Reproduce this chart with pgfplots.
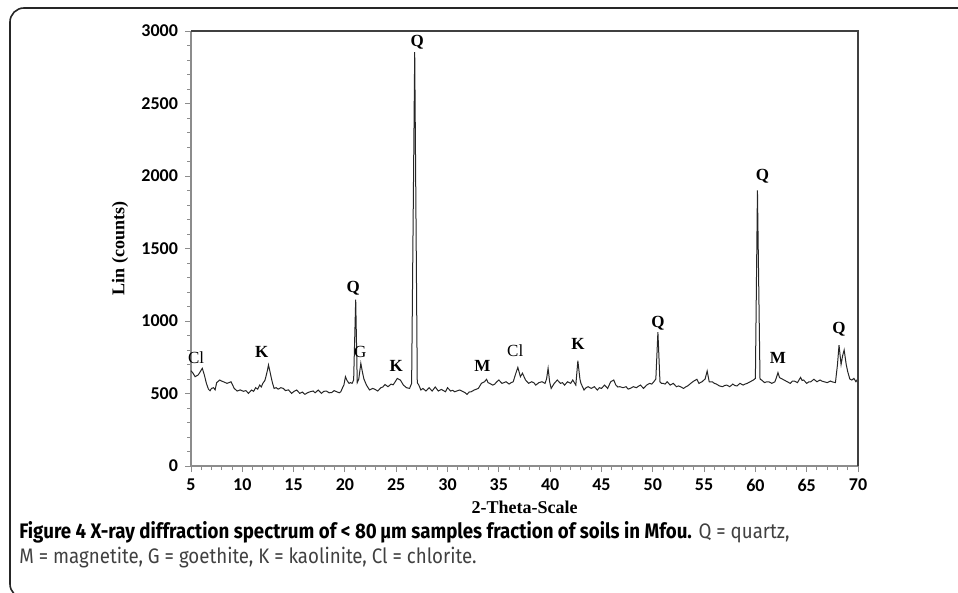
\documentclass[border=0pt]{standalone}
\usepackage{fontspec}
\setmainfont{Liberation Serif}
\newfontfamily\tickfont{Carlito}
\newfontfamily\capfont[FakeStretch=0.89]{Fira Sans}
\usepackage{pgfplots}
\pgfplotsset{compat=1.18}

% spectrum (2theta, counts)
\pgfplotstableread{
x y
5.0 657
5.2 640
5.4 616
5.7 628
5.9 650
6.1 674
6.3 628
6.5 570
6.7 530
6.85 519
7.0 535
7.2 540
7.35 525
7.5 575
7.8 593
8.0 585
8.2 580
8.5 570
8.7 575
8.9 581
9.05 560
9.2 536
9.5 517
9.8 525
10.1 515
10.35 520
10.6 501
10.9 524
11.1 515
11.3 540
11.5 530
11.7 558
11.85 545
12.0 570
12.2 590
12.3 616
12.45 660
12.55 697
12.7 650
12.8 616
12.95 570
13.1 535
13.3 540
13.5 530
13.75 540
14.0 535
14.2 520
14.5 525
14.8 501
15.05 515
15.3 524
15.6 501
15.85 510
16.1 494
16.35 505
16.6 512
16.9 517
17.1 505
17.4 524
17.7 501
17.95 515
18.2 517
18.45 505
18.7 506
18.95 520
19.2 512
19.45 505
19.6 512
19.8 545
19.9 558
20.05 616
20.2 590
20.4 570
20.55 575
20.7 570
20.85 593
21.05 1148
21.2 575
21.35 600
21.55 708
21.7 650
21.85 600
22.1 558
22.4 524
22.7 535
22.9 530
23.2 517
23.5 540
23.7 545
23.9 562
24.2 547
24.5 565
24.7 560
24.9 581
25.1 604
25.4 593
25.7 558
26.0 540
26.3 535
26.5 570
26.8 2855
27.05 575
27.2 558
27.4 524
27.6 535
27.9 517
28.2 540
28.5 517
28.8 545
29.1 517
29.4 528
29.8 512
30.0 540
30.3 517
30.5 522
30.7 512
31.0 520
31.2 524
31.45 515
31.7 506
31.9 494
32.1 510
32.3 512
32.6 524
33.0 535
33.3 570
33.6 581
33.8 598
33.95 575
34.1 570
34.4 558
34.6 565
34.8 581
35.0 593
35.3 570
35.5 575
35.7 581
36.0 565
36.2 575
36.4 581
36.6 627
36.85 680
37.1 616
37.3 640
37.6 593
37.9 570
38.2 581
38.4 575
38.6 558
38.9 575
39.2 581
39.5 570
39.65 600
39.8 674
39.95 580
40.1 535
40.4 570
40.7 593
41.0 570
41.2 575
41.4 558
41.7 581
42.0 570
42.2 593
42.5 558
42.7 726
42.9 600
43.0 570
43.3 524
43.5 540
43.7 547
44.0 535
44.3 547
44.6 524
44.8 540
45.0 535
45.3 558
45.6 535
45.9 581
46.2 593
46.4 558
46.6 545
46.8 547
47.1 540
47.4 547
47.6 530
47.8 535
48.1 547
48.4 540
48.6 550
48.8 558
49.1 535
49.4 558
49.7 570
49.9 565
50.1 581
50.3 600
50.5 924
50.7 581
50.85 570
51.0 570
51.2 565
51.4 581
51.7 558
52.0 570
52.3 547
52.5 552
52.7 547
53.0 535
53.2 545
53.4 552
53.7 570
54.0 586
54.3 598
54.5 570
54.8 581
55.1 600
55.3 655
55.5 581
55.8 581
56.0 570
56.2 565
56.5 552
56.8 547
57.0 555
57.2 558
57.5 547
57.8 565
58.0 555
58.2 552
58.5 570
58.8 558
59.0 565
59.2 570
59.5 581
59.8 593
60.0 604
60.2 1900
60.45 600
60.6 593
60.9 575
61.1 581
61.3 581
61.6 570
61.9 581
62.05 610
62.2 644
62.35 610
62.5 604
62.8 593
63.1 581
63.4 570
63.6 585
63.8 586
64.1 575
64.4 611
64.55 590
64.7 593
65.0 570
65.2 580
65.4 581
65.7 598
66.0 581
66.3 593
66.5 585
66.7 581
67.0 575
67.3 586
67.5 580
67.8 575
68.0 700
68.15 834
68.35 700
68.5 760
68.65 800
68.85 700
69.0 650
69.2 600
69.4 593
69.6 604
69.8 581
70.0 604
}\spectrum

\begin{document}
\begin{tikzpicture}
% page in reference pixels: 1px = 0.5pt, y downwards
\begin{scope}[x=0.5pt,y=-0.5pt]
\path[use as bounding box] (0,0) rectangle (958,593);
\draw[black!85, line width=0.8pt, rounded corners=7pt] (1000,8) -- (10,8) -- (10,598) -- (60,598);
\node[anchor=base west, inner sep=0pt, font=\capfont\fontsize{10.5}{12}\selectfont]
  at (19,538) {\textbf{Figure 4 X-ray diffraction spectrum of < 80\,µm samples fraction of soils in Mfou.} \textcolor{black!75}{Q = quartz,}};
\node[anchor=base west, inner sep=0pt, font=\capfont\fontsize{10.5}{12}\selectfont, text=black!75]
  at (19,563) {M = magnetite, G = goethite, K = kaolinite, Cl = chlorite.};
\end{scope}

\begin{axis}[at={(95.5pt,-233pt)}, anchor=south west,
  scale only axis, width=333.5pt, height=217.5pt,
  xmin=5, xmax=70, ymin=0, ymax=3000,
  xtick={5,10,...,70}, minor x tick num=4,
  ytick={0,500,...,3000}, minor y tick num=4,
  axis x line*=bottom, axis y line*=left,
  axis line style={-, draw=black!45, line width=0.6pt},
  tick align=outside, major tick length=3pt, minor tick length=2pt,
  tick style={draw=black!45, line width=0.5pt},
  tick label style={font=\tickfont\bfseries\fontsize{9}{10}\selectfont},
  /pgf/number format/assume math mode=true, /pgf/number format/1000 sep={},
  xlabel={2-Theta-Scale}, ylabel={Lin (counts)},
  every axis x label/.style={at={(axis description cs:0.5,-0.094)}, anchor=center,
    font=\bfseries\fontsize{9}{10}\selectfont},
  every axis y label/.style={at={(axis description cs:-0.1064,0.5)}, rotate=90, anchor=center,
    font=\bfseries\fontsize{9}{10}\selectfont},
  clip=false,
  after end axis/.code={
    \draw[black!75, line width=0.6pt] (rel axis cs:0,1) -- (rel axis cs:1,1) -- (rel axis cs:1,0);
  }]
\addplot[black!85, line width=0.5pt, mark=none] table[x=x, y=y] {\spectrum};
\begin{scope}[font=\bfseries\fontsize{8.5}{9}\selectfont]
\node at (axis cs:27.05,2924) {Q};
\node at (axis cs:20.8,1228) {Q};
\node at (axis cs:50.5,986) {Q};
\node at (axis cs:60.7,2000) {Q};
\node at (axis cs:68.15,945) {Q};
\node at (axis cs:11.9,786) {K};
\node at (axis cs:25.0,690) {K};
\node at (axis cs:42.7,841) {K};
\node at (axis cs:33.4,690) {M};
\node at (axis cs:62.2,745) {M};
\end{scope}
\begin{scope}[font=\fontsize{8.5}{9}\selectfont]
\node at (axis cs:5.5,745) {Cl};
\node at (axis cs:36.6,793) {Cl};
\node at (axis cs:21.5,786) {G};
\end{scope}
\end{axis}
\end{tikzpicture}
\end{document}
